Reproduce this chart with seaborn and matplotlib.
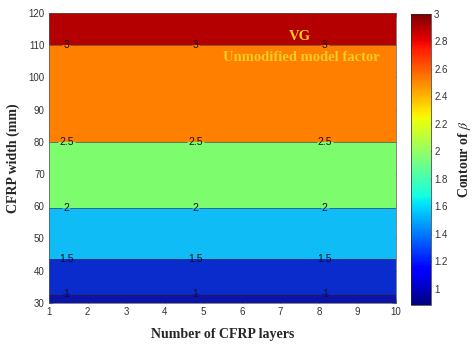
import numpy as np
import matplotlib
matplotlib.use("Agg")
import matplotlib.pyplot as plt
import matplotlib.colors as mcolors
import matplotlib.cm as cm
import seaborn as sns

# Reliability index beta over the design grid (CFRP layers x CFRP width)
layers = [1, 2, 3, 4, 5, 6, 7, 8, 9, 10]
widths = [30, 32.8, 43.6, 59.5, 80, 110, 120]
beta_by_width = [0.9, 1.0, 1.5, 2.0, 2.5, 3.0, 3.05]

levels = [0.88, 1.0, 1.5, 2.0, 2.5, 3.0, 3.1]
band_colors = ["#0a14a8", "#0a2ccc", "#10bcf6", "#7dfc6e", "#ff8000", "#b40000"]
line_levels = [1.0, 1.5, 2.0, 2.5, 3.0]
label_x = [1.45, 4.8, 8.15]

x_ticks = list(range(1, 11))
y_ticks = list(range(30, 121, 10))
cbar_ticks = [1.0, 1.2, 1.4, 1.6, 1.8, 2.0, 2.2, 2.4, 2.6, 2.8, 3.0]
cbar_range = (0.88, 3.0)

sns.set_style("ticks")
plt.rcParams["font.family"] = ["Liberation Sans", "DejaVu Sans"]
plt.rcParams["mathtext.fontset"] = "stix"

fig = plt.figure(figsize=(4.75, 3.49), dpi=100)
ax = fig.add_axes([0.103, 0.132, 0.731, 0.831])
cax = fig.add_axes([0.866, 0.126, 0.042, 0.834])

X, Y = np.meshgrid(np.array(layers, float), np.array(widths, float))
Z = np.tile(np.array(beta_by_width, float)[:, None], (1, len(layers)))

ax.contourf(X, Y, Z, levels=levels, colors=band_colors)
cs = ax.contour(X, Y, Z, levels=line_levels, colors="#3a3a48", linewidths=0.45)

manual = []
for w in widths[1:6]:
    for xv in label_x:
        manual.append((xv, w))
ax.clabel(cs, levels=line_levels, manual=manual, inline=True, inline_spacing=1,
          fontsize=7.5, colors="#111111", fmt=lambda v: f"{v:g}")

ax.set_xlim(1, 10)
ax.set_ylim(30, 120)
ax.set_xticks(x_ticks)
ax.set_yticks(y_ticks)
ax.tick_params(direction="in", top=True, right=True, length=3, width=0.5,
               labelsize=7, colors="#333333", labelcolor="#333333", pad=3)
for s in ax.spines.values():
    s.set_linewidth(0.5)
    s.set_color("#555555")

serif = ["Liberation Serif", "DejaVu Serif"]
ax.set_xlabel("Number of CFRP layers", family=serif, fontweight="bold", fontsize=10, labelpad=8)
ax.set_ylabel("CFRP width (mm)", family=serif, fontweight="bold", fontsize=10, labelpad=6)

ax.text(7.5, 112.6, "VG", family=serif, fontweight="bold", fontsize=10.5,
        color="#f5cc20", ha="center", va="center")
ax.text(7.55, 106.2, "Unmodified model factor", family=serif, fontweight="bold",
        fontsize=10.5, color="#f5cc20", ha="center", va="center")

norm = mcolors.Normalize(vmin=cbar_range[0], vmax=cbar_range[1])
sm = cm.ScalarMappable(norm=norm, cmap="jet")
cb = fig.colorbar(sm, cax=cax, ticks=cbar_ticks)
cb.ax.set_yticklabels([f"{t:g}" for t in cbar_ticks])
cb.ax.tick_params(direction="in", length=3, width=0.5, labelsize=7,
                  colors="#333333", labelcolor="#333333", pad=2)
cb.outline.set_linewidth(0.5)
cb.set_label(r"Contour of $\beta$", family=serif, fontweight="bold", fontsize=10, labelpad=6)

fig.savefig("out.png", dpi=100)
